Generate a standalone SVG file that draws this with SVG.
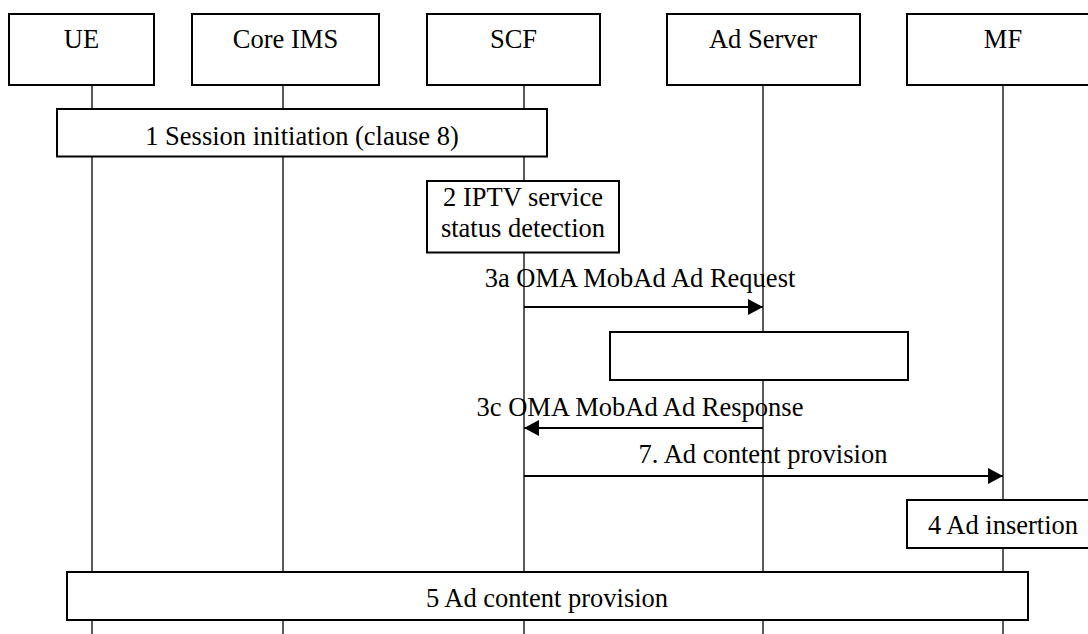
<svg xmlns="http://www.w3.org/2000/svg" width="1088" height="634" viewBox="0 0 1088 634">
  <style>
    .box { fill: #ffffff; stroke: #000000; stroke-width: 2; }
    .life { stroke: #000000; stroke-width: 1.3; fill: none; }
    .msg { stroke: #000000; stroke-width: 2; fill: none; }
    .t { font-family: "Liberation Serif", "Times New Roman", serif; font-size: 26.5px; fill: #000000; text-anchor: middle; }
  </style>
  <defs>
    <marker id="ah" markerWidth="15" markerHeight="16" refX="15" refY="8" orient="auto" markerUnits="userSpaceOnUse">
      <path d="M0,0 L15,8 L0,16 z" fill="#000000"/>
    </marker>
  </defs>
  <rect x="0" y="0" width="1088" height="634" fill="#ffffff"/>

  <g id="lifelines">
    <line class="life" x1="92" y1="85" x2="92" y2="634"/>
    <line class="life" x1="283" y1="85" x2="283" y2="634"/>
    <line class="life" x1="524" y1="85" x2="524" y2="634"/>
    <line class="life" x1="763" y1="85" x2="763" y2="634"/>
    <line class="life" x1="1003" y1="85" x2="1003" y2="634"/>
  </g>

  <g id="node-ue">
    <rect class="box" x="9" y="14" width="145" height="71"/>
    <text class="t" x="81.5" y="48">UE</text>
  </g>
  <g id="node-coreims">
    <rect class="box" x="192" y="14" width="187" height="71"/>
    <text class="t" x="285.5" y="48">Core IMS</text>
  </g>
  <g id="node-scf">
    <rect class="box" x="427" y="14" width="173" height="71"/>
    <text class="t" x="513.5" y="48">SCF</text>
  </g>
  <g id="node-adserver">
    <rect class="box" x="667" y="14" width="193" height="71"/>
    <text class="t" x="763" y="48">Ad Server</text>
  </g>
  <g id="node-mf">
    <rect class="box" x="907" y="14" width="190" height="71"/>
    <text class="t" x="1003" y="48">MF</text>
  </g>

  <g id="step-1">
    <rect class="box" x="57" y="109" width="490" height="47.5"/>
    <text class="t" x="302" y="145">1 Session initiation (clause 8)</text>
  </g>
  <g id="step-2">
    <rect class="box" x="427" y="181" width="192" height="71.5"/>
    <text class="t" x="523" y="206">2 IPTV service</text>
    <text class="t" x="523" y="236.5">status detection</text>
  </g>
  <g id="step-3b">
    <rect class="box" x="610" y="332" width="298" height="48"/>
  </g>
  <g id="step-4">
    <rect class="box" x="907" y="500" width="190" height="48"/>
    <text class="t" x="1003" y="534">4 Ad insertion</text>
  </g>
  <g id="step-5">
    <rect class="box" x="67" y="572" width="961" height="48"/>
    <text class="t" x="547" y="606.5">5 Ad content provision</text>
  </g>

  <g id="connectors">
    <line class="msg" x1="524" y1="307" x2="763" y2="307" marker-end="url(#ah)"/>
    <line class="msg" x1="763" y1="428" x2="524" y2="428" marker-end="url(#ah)"/>
    <line class="msg" x1="524" y1="476" x2="1003" y2="476" marker-end="url(#ah)"/>
    <text class="t" x="640" y="287">3a OMA MobAd Ad Request</text>
    <text class="t" x="640" y="415.5">3c OMA MobAd Ad Response</text>
    <text class="t" x="763" y="463">7. Ad content provision</text>
  </g>
</svg>
